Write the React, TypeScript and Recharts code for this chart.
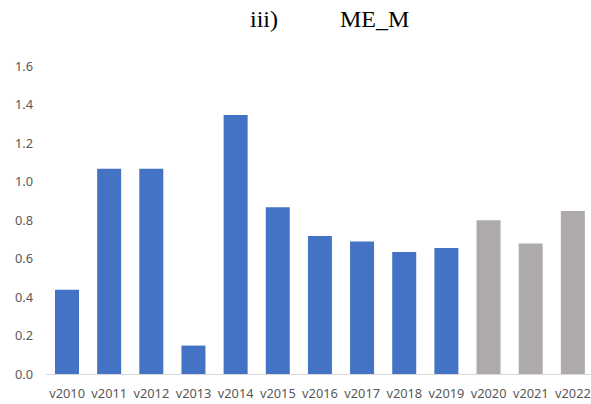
import * as React from "react";
import { BarChart, Bar, XAxis, YAxis, Cell } from "recharts";

// vintages and their ME_M values
const vintages = [
  "v2010", "v2011", "v2012", "v2013", "v2014", "v2015", "v2016",
  "v2017", "v2018", "v2019", "v2020", "v2021", "v2022",
];
const meM = [0.44, 1.067, 1.067, 0.15, 1.346, 0.868, 0.718, 0.69, 0.635, 0.656, 0.8, 0.68, 0.848];
// vintages drawn in grey
const greyVintages = ["v2020", "v2021", "v2022"];
const yTicks = [0, 0.2, 0.4, 0.6, 0.8, 1.0, 1.2, 1.4, 1.6];

const data = vintages.map((v, i) => ({ name: v, value: meM[i] }));

const BLUE = "#4472C4";
const GREY = "#AEAAAA";
const tickStyle = { fill: "#595959", fontSize: 12.8, fontFamily: "'Noto Sans', sans-serif" };

const App: React.FC = () => {
  return (
    <div
      style={{
        position: "absolute",
        left: 0,
        top: 0,
        width: 591,
        height: 404,
        overflow: "hidden",
        background: "#fff",
      }}
    >
      <svg width={591} height={40} style={{ position: "absolute", left: 0, top: 0 }}>
        <text x={250} y={27} fontFamily="'Liberation Serif', serif" fontSize={24} fill="#000">
          iii)
        </text>
        <text x={340} y={27} fontFamily="'Liberation Serif', serif" fontSize={24} fill="#000">
          ME_M
        </text>
      </svg>
      <BarChart
        width={594}
        height={404}
        data={data}
        margin={{ top: 66, right: 0, bottom: 0, left: 0 }}
        barSize={24}
      >
        <XAxis
          dataKey="name"
          interval={0}
          tickLine={false}
          axisLine={{ stroke: "#D9D9D9" }}
          tick={tickStyle}
          tickSize={0}
          tickMargin={14}
          height={29.5}
        />
        <YAxis
          domain={[0, 1.6]}
          ticks={yTicks}
          tickFormatter={(v: number) => v.toFixed(1)}
          axisLine={false}
          tickLine={false}
          tick={tickStyle}
          tickSize={0}
          tickMargin={13}
          width={46}
        />
        <Bar dataKey="value" isAnimationActive={false}>
          {data.map((d) => (
            <Cell key={d.name} fill={greyVintages.includes(d.name) ? GREY : BLUE} />
          ))}
        </Bar>
      </BarChart>
    </div>
  );
};

export default App;
